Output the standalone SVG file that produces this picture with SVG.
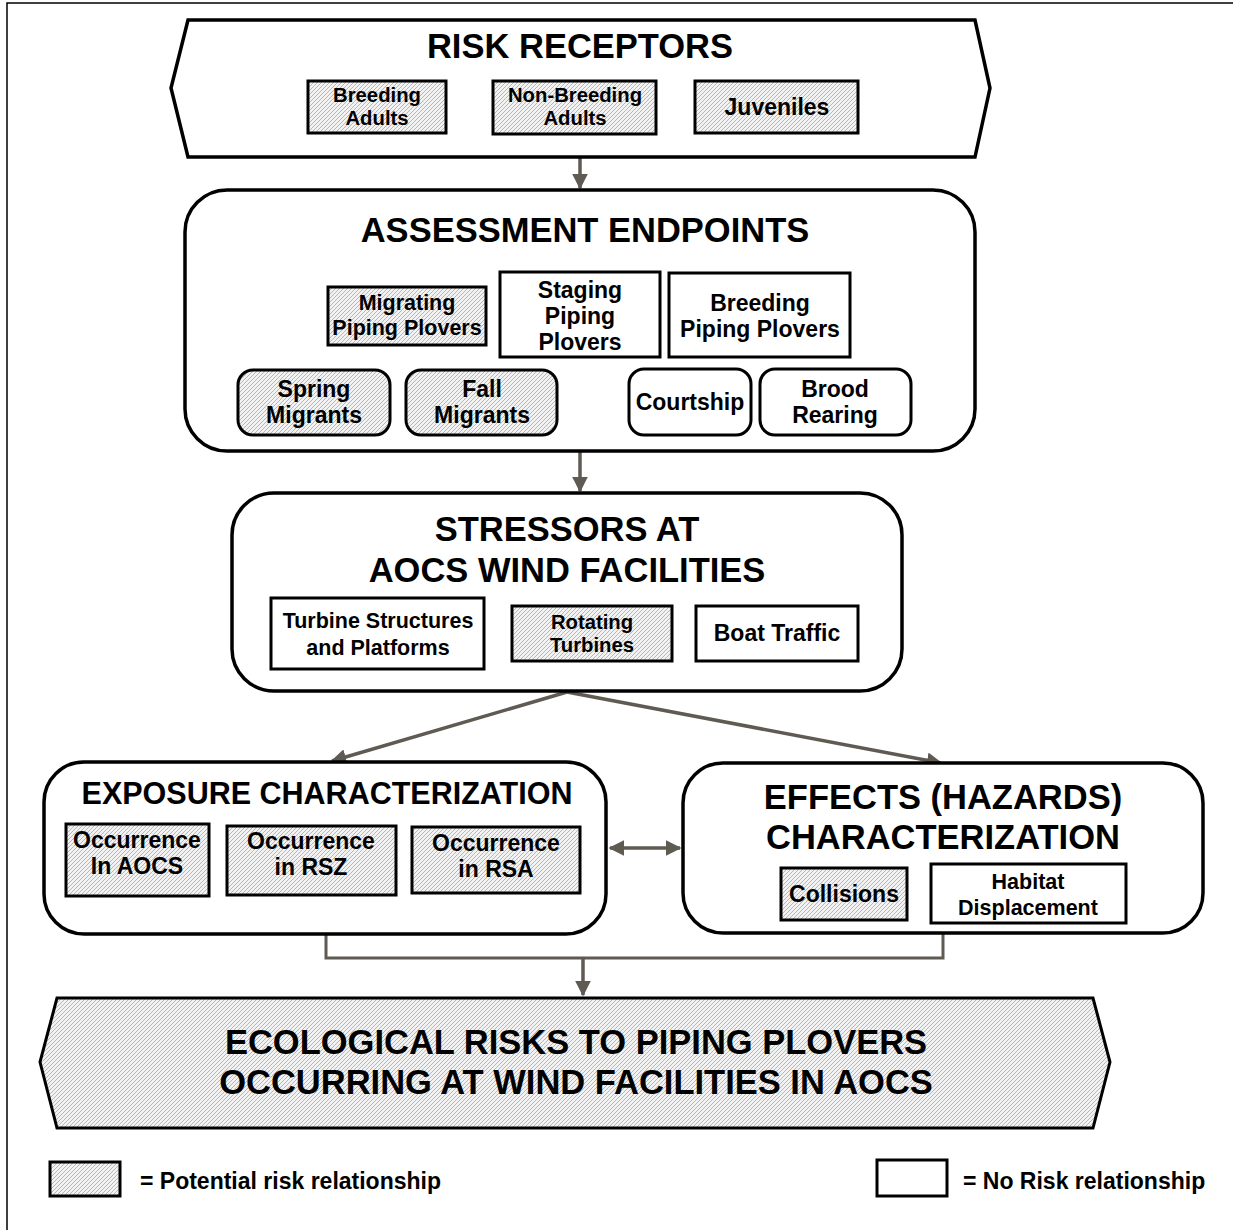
<svg xmlns="http://www.w3.org/2000/svg" width="1233" height="1230" viewBox="0 0 1233 1230">
<defs>
<pattern id="hatch" patternUnits="userSpaceOnUse" width="4" height="4">
<rect width="4" height="4" fill="#f2f2f2"/>
<path d="M-1,1 l2,-2 M0,4 l4,-4 M3,5 l2,-2" stroke="#a8a8a8" stroke-width="0.8"/>
</pattern>
<marker id="ah" viewBox="0 0 10 10" refX="9" refY="5" markerWidth="4.5" markerHeight="4.5" orient="auto-start-reverse" markerUnits="strokeWidth">
<path d="M0,0 L10,5 L0,10 z" fill="#5f5a52"/>
</marker>
</defs>
<style>
.box{stroke:#000;stroke-width:3;fill:#fff}
.hb{stroke:#000;stroke-width:3;fill:url(#hatch)}
.cont{stroke:#000;stroke-width:3.5;fill:#fff}
.con{stroke:#5f5a52;stroke-width:3.5;fill:none}
.tl{stroke:#5f5a52;stroke-width:3;fill:none}
text{font-family:"Liberation Sans",Arial,sans-serif;font-weight:bold;fill:#000;text-anchor:middle}
.t34{font-size:34.5px}
.t30{font-size:30.5px}
.t22{font-size:23px}
.t21{font-size:21.5px}
.t20{font-size:20.3px}
.lg{font-size:23px;text-anchor:start}
</style>
<rect width="1233" height="1230" fill="#fff"/>
<path d="M7,1230 L7,3 L1233,3" stroke="#000" stroke-width="1.5" fill="none"/>

<g id="connectors">
<line class="con" x1="580" y1="158" x2="580" y2="188" marker-end="url(#ah)"/>
<line class="con" x1="580" y1="451" x2="580" y2="491" marker-end="url(#ah)"/>
<line class="con" x1="567" y1="692" x2="332" y2="761" marker-end="url(#ah)"/>
<line class="con" x1="567" y1="692" x2="941" y2="763" marker-end="url(#ah)"/>
<line class="con" x1="610" y1="848" x2="680" y2="848" marker-start="url(#ah)" marker-end="url(#ah)"/>
<line class="con" x1="209" y1="860" x2="225" y2="860" marker-end="url(#ah)"/>
<line class="con" x1="396" y1="858" x2="410" y2="858" marker-end="url(#ah)"/>
<path class="tl" d="M326,934 V958 H943 V933"/>
<line class="con" x1="583" y1="958" x2="583" y2="995" marker-end="url(#ah)"/>
<line class="tl" x1="486" y1="315" x2="500" y2="315"/>
<line class="tl" x1="660" y1="315" x2="669" y2="315"/>
<path class="tl" d="M406,345 V358 M314,370 V358 H482 V370"/>
<path class="tl" d="M760,357 V363 M680,369 V363 H836 V369"/>
</g>

<g id="risk-receptors">
<polygon class="cont" points="188,20 975,20 990,88 975,157 188,157 171,88"/>
<text class="t34" x="580" y="58">RISK RECEPTORS</text>
</g>
<g id="breeding-adults">
<rect class="hb" x="308" y="81" width="138" height="52"/>
<text class="t20" x="377" y="102">Breeding</text>
<text class="t20" x="377" y="125">Adults</text>
</g>
<g id="non-breeding-adults">
<rect class="hb" x="493" y="81" width="163" height="53"/>
<text class="t20" x="575" y="102">Non-Breeding</text>
<text class="t20" x="575" y="125">Adults</text>
</g>
<g id="juveniles">
<rect class="hb" x="695" y="81" width="163" height="52"/>
<text class="t22" x="777" y="115">Juveniles</text>
</g>

<g id="assessment-endpoints">
<rect class="cont" x="185" y="190" width="790" height="261" rx="42"/>
<text class="t34" x="585" y="242">ASSESSMENT ENDPOINTS</text>
</g>
<g id="migrating">
<rect class="hb" x="328" y="287" width="158" height="58"/>
<text class="t21" x="407" y="310">Migrating</text>
<text class="t21" x="407" y="335">Piping Plovers</text>
</g>
<g id="staging">
<rect class="box" x="500" y="272" width="160" height="85"/>
<text class="t22" x="580" y="298">Staging</text>
<text class="t22" x="580" y="324">Piping</text>
<text class="t22" x="580" y="350">Plovers</text>
</g>
<g id="breeding-pp">
<rect class="box" x="669" y="273" width="181" height="84"/>
<text class="t22" x="760" y="311">Breeding</text>
<text class="t22" x="760" y="337">Piping Plovers</text>
</g>
<g id="spring">
<rect class="hb" x="238" y="370" width="152" height="65" rx="15"/>
<text class="t22" x="314" y="397">Spring</text>
<text class="t22" x="314" y="423">Migrants</text>
</g>
<g id="fall">
<rect class="hb" x="406" y="370" width="151" height="65" rx="15"/>
<text class="t22" x="482" y="397">Fall</text>
<text class="t22" x="482" y="423">Migrants</text>
</g>
<g id="courtship">
<rect class="box" x="629" y="369" width="122" height="66" rx="15"/>
<text class="t22" x="690" y="410">Courtship</text>
</g>
<g id="brood">
<rect class="box" x="760" y="369" width="151" height="66" rx="15"/>
<text class="t22" x="835" y="397">Brood</text>
<text class="t22" x="835" y="423">Rearing</text>
</g>

<g id="stressors">
<rect class="cont" x="232" y="493" width="670" height="198" rx="42"/>
<text class="t34" x="567" y="541">STRESSORS AT</text>
<text class="t34" x="567" y="582">AOCS WIND FACILITIES</text>
</g>
<g id="turbine-structures">
<rect class="box" x="271" y="598" width="213" height="71"/>
<text class="t21" x="378" y="628">Turbine Structures</text>
<text class="t21" x="378" y="655">and Platforms</text>
</g>
<g id="rotating">
<rect class="hb" x="512" y="606" width="160" height="55"/>
<text class="t20" x="592" y="629">Rotating</text>
<text class="t20" x="592" y="652">Turbines</text>
</g>
<g id="boat">
<rect class="box" x="696" y="606" width="162" height="55"/>
<text class="t22" x="777" y="641">Boat Traffic</text>
</g>

<g id="exposure">
<rect class="cont" x="44" y="762" width="562" height="172" rx="40"/>
<text class="t30" x="327" y="804">EXPOSURE CHARACTERIZATION</text>
</g>
<g id="occ-aocs">
<rect class="hb" x="66" y="824" width="143" height="72"/>
<text class="t22" x="137" y="848">Occurrence</text>
<text class="t22" x="137" y="874">In AOCS</text>
</g>
<g id="occ-rsz">
<rect class="hb" x="227" y="826" width="169" height="69"/>
<text class="t22" x="311" y="849">Occurrence</text>
<text class="t22" x="311" y="875">in RSZ</text>
</g>
<g id="occ-rsa">
<rect class="hb" x="412" y="827" width="168" height="66"/>
<text class="t22" x="496" y="851">Occurrence</text>
<text class="t22" x="496" y="877">in RSA</text>
</g>

<g id="effects">
<rect class="cont" x="683" y="763" width="520" height="170" rx="40"/>
<text class="t34" x="943" y="809">EFFECTS (HAZARDS)</text>
<text class="t34" x="943" y="849">CHARACTERIZATION</text>
</g>
<g id="collisions">
<rect class="hb" x="781" y="868" width="126" height="52"/>
<text class="t22" x="844" y="902">Collisions</text>
</g>
<g id="habitat">
<rect class="box" x="931" y="864" width="195" height="59"/>
<text class="t21" x="1028" y="889">Habitat</text>
<text class="t21" x="1028" y="915">Displacement</text>
</g>

<g id="ecological-risks">
<polygon class="hb" stroke-width="3.5" points="57,998 1093,998 1110,1062 1093,1128 57,1128 40,1062"/>
<text class="t34" x="576" y="1054">ECOLOGICAL RISKS TO PIPING PLOVERS</text>
<text class="t34" x="576" y="1094">OCCURRING AT WIND FACILITIES IN AOCS</text>
</g>

<g id="legend">
<rect class="hb" x="50" y="1162" width="70" height="34"/>
<text class="lg" x="140" y="1189">= Potential risk relationship</text>
<rect class="box" x="877" y="1160" width="70" height="36"/>
<text class="lg" x="963" y="1189">= No Risk relationship</text>
</g>
</svg>
